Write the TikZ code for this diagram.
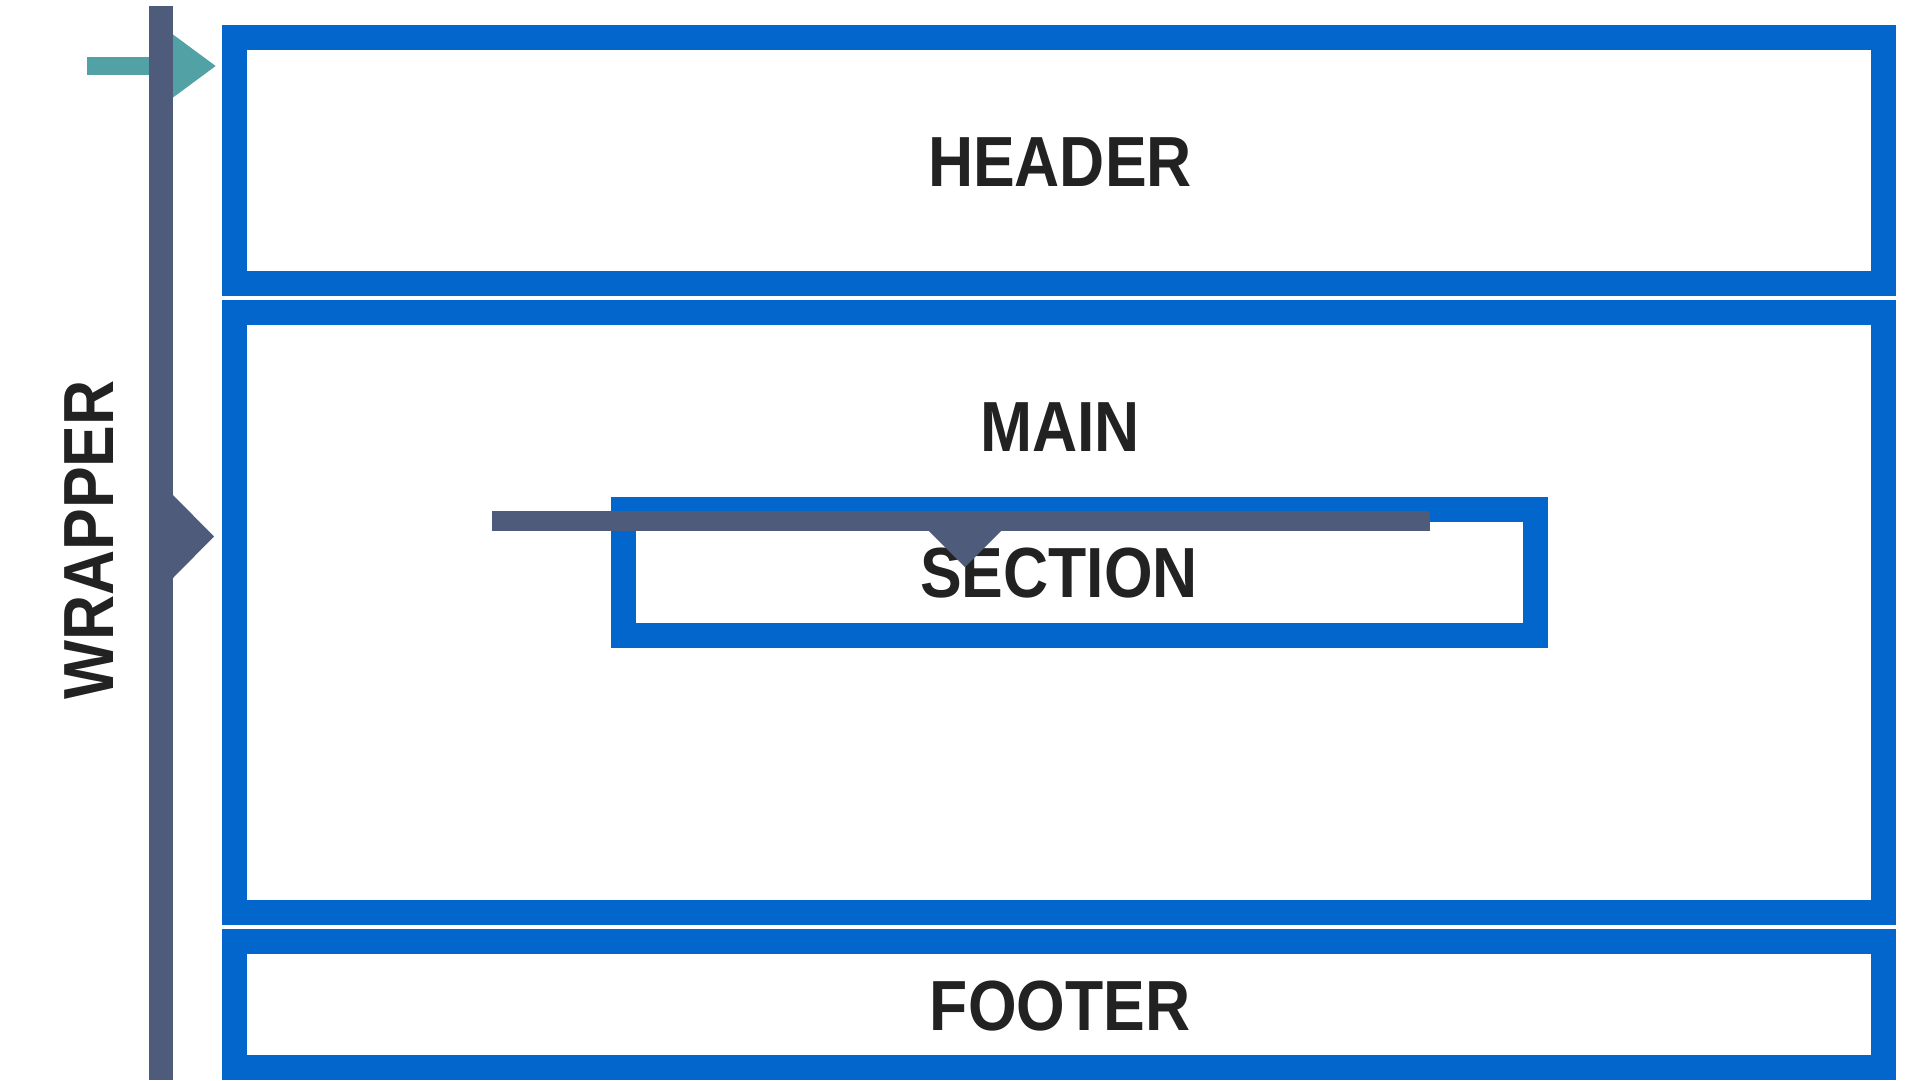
\documentclass[tikz,border=0pt]{standalone}
\usepackage{fontspec}
\setmainfont{Liberation Sans}[FakeStretch=0.88]
\usetikzlibrary{positioning,arrows.meta}
\definecolor{boxblue}{RGB}{2,102,204}
\definecolor{slate}{RGB}{79,91,122}
\definecolor{tealc}{RGB}{82,162,165}
\definecolor{ink}{RGB}{34,34,34}
\begin{document}
\begin{tikzpicture}[x=1pt,y=-1pt,>=latex,
    box/.style={draw=boxblue,line width=25pt,minimum width=1649pt,inner sep=0pt},
    lbl/.style={text=ink,font=\fontsize{71}{71}\selectfont\bfseries}]
    \useasboundingbox (0,0) rectangle (1920,1080);
    % page blocks
    \node[box,minimum height=246.5pt] (header) at (1058.5,160.25) {};
    \node[box,minimum height=599.5pt,below=4pt of header] (main) {};
    \node[box,minimum height=126pt,below=4.5pt of main] (footer) {};
    \node[box,minimum width=912pt,minimum height=126pt] (section) at (1079.5,572.5) {};
    \node[lbl] (headerlbl) at (1060,162) {HEADER};
    \node[lbl] (mainlbl) at (1060,427) {MAIN};
    \node[lbl] (sectionlbl) at (1059,573) {SECTION};
    \node[lbl] (footerlbl) at (1060,1006) {FOOTER};
    \node[lbl,rotate=90] (wrapperlbl) at (89.5,540) {WRAPPER};
    % pointers
    \coordinate (tin) at (87,66);
    \draw[tealc,line width=18pt,-{Triangle[length=43pt,width=60pt]},shorten >=5.5pt] (tin)--(header.west |- tin);
    \coordinate (wtop) at (161,6);
    \coordinate (wbot) at (161,1080);
    \draw[slate,line width=24pt](wtop)--(wbot);
    \fill[slate](173,495)--(214,536.5)--(173,578)--cycle;
    \coordinate (sin) at (492,521);
    \coordinate (sout) at (1430,521);
    \draw[slate,line width=20.5pt](sin)--(sout);
    \fill[slate](929,531)--(965,567)--(1001,531)--cycle;
\end{tikzpicture}
\end{document}
